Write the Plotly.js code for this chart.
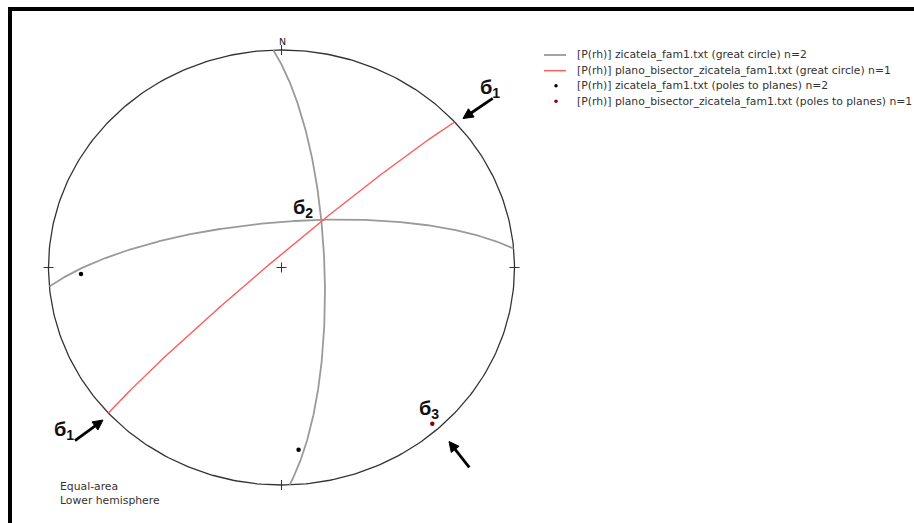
<!DOCTYPE html>
<html><head><meta charset="utf-8">
<script src="https://cdn.plot.ly/plotly-3.0.1.min.js"></script>
<style>html,body{margin:0;padding:0;background:#fff}#chart{width:914px;height:523px}</style>
</head><body><div id="chart"></div>
<script>
// Planes (right-hand-rule strike / dip, degrees) read from the stereonet
const famStrikes = [358, 265];
const famDips = [75, 73];
const bisStrikes = [228];
const bisDips = [86.3];
const legendLabels = [
  "[P(rh)] zicatela_fam1.txt (great circle) n=2",
  "[P(rh)] plano_bisector_zicatela_fam1.txt (great circle) n=1",
  "[P(rh)] zicatela_fam1.txt (poles to planes) n=2",
  "[P(rh)] plano_bisector_zicatela_fam1.txt (poles to planes) n=1"
];

const W = 914, H = 523, CX = 281.5, CY = 267.5, RX = 233, RY = 217.5;
const px = x => (x - CX) / RX;
const py = y => (CY - y) / RY;
const d2r = Math.PI / 180;

function projLine(trend, plunge) {
  const r = Math.SQRT2 * Math.sin((90 - plunge) * d2r / 2);
  return [r * Math.sin(trend * d2r), r * Math.cos(trend * d2r)];
}
function greatCircle(strike, dip) {
  const xs = [], ys = [];
  const s = strike * d2r, dd = (strike + 90) * d2r, d = dip * d2r;
  const sv = [Math.cos(s), Math.sin(s), 0];
  const dv = [Math.cos(d) * Math.cos(dd), Math.cos(d) * Math.sin(dd), Math.sin(d)];
  for (let i = 0; i <= 360; i++) {
    const t = i * 0.5 * d2r;
    const v = [0, 1, 2].map(k => Math.cos(t) * sv[k] + Math.sin(t) * dv[k]);
    const plunge = Math.asin(Math.max(-1, Math.min(1, v[2]))) / d2r;
    const trend = Math.atan2(v[1], v[0]) / d2r;
    const p = projLine(trend, plunge);
    xs.push(p[0]); ys.push(p[1]);
  }
  return {x: xs, y: ys};
}
function poles(strikes, dips) {
  const xs = [], ys = [];
  strikes.forEach((s, i) => {
    const p = projLine(s - 90, 90 - dips[i]);
    xs.push(p[0]); ys.push(p[1]);
  });
  return {x: xs, y: ys};
}

const traces = [];
// primitive circle
const cxs = [], cys = [];
for (let i = 0; i <= 360; i++) { cxs.push(Math.sin(i * d2r)); cys.push(Math.cos(i * d2r)); }
traces.push({x: cxs, y: cys, mode: 'lines', line: {color: '#333', width: 1.3}, hoverinfo: 'skip', showlegend: false});
// cardinal ticks and centre cross
const tx = 5 / RX, ty = 5 / RY;
traces.push({
  x: [0, 0, null, 0, 0, null, -1 - tx, -1 + tx, null, 1 - tx, 1 + tx, null, -tx, tx, null, 0, 0],
  y: [1 - ty, 1 + ty, null, -1 - ty, -1 + ty, null, 0, 0, null, 0, 0, null, 0, 0, null, -ty, ty],
  mode: 'lines', line: {color: '#333', width: 1}, hoverinfo: 'skip', showlegend: false
});
famStrikes.forEach((s, i) => {
  const g = greatCircle(s, famDips[i]);
  traces.push({x: g.x, y: g.y, mode: 'lines', name: legendLabels[0], line: {color: '#9a9a9a', width: 1.8}, showlegend: false});
});
bisStrikes.forEach((s, i) => {
  const g = greatCircle(s, bisDips[i]);
  traces.push({x: g.x, y: g.y, mode: 'lines', name: legendLabels[1], line: {color: '#ff5a5a', width: 1.4}, showlegend: false});
});
const fp = poles(famStrikes, famDips);
traces.push({x: fp.x, y: fp.y, mode: 'markers', name: legendLabels[2], marker: {color: '#000', size: 4.5}, showlegend: false});
const bp = poles(bisStrikes, bisDips);
traces.push({x: bp.x, y: bp.y, mode: 'markers', name: legendLabels[3], marker: {color: '#8b0000', size: 4.5}, showlegend: false});

const annotations = [];
const shapes = [];
const sigFont = {family: 'Liberation Sans, Arial, sans-serif', size: 20, color: '#111'};
[["<b>б<sub>1</sub></b>", 490, 88], ["<b>б<sub>1</sub></b>", 64, 430],
 ["<b>б<sub>2</sub></b>", 303, 208], ["<b>б<sub>3</sub></b>", 429, 409]].forEach(a => {
  annotations.push({x: px(a[1]), y: py(a[2]), xref: 'x', yref: 'y', text: a[0], showarrow: false, font: sigFont});
});
// stress arrows (tail -> head, pixels) drawn as shapes
const X = v => v / W, Y = v => 1 - v / H;
[[492.7, 98.3, 463, 118.5], [75, 440.7, 103, 420], [469.3, 467.3, 449, 441.5]].forEach(a => {
  const dx = a[2] - a[0], dy = a[3] - a[1], L = Math.hypot(dx, dy);
  const ux = dx / L, uy = dy / L, hl = 10, hw = 5;
  const bx = a[2] - ux * hl, by = a[3] - uy * hl;
  shapes.push({type: 'line', xref: 'paper', yref: 'paper', x0: X(a[0]), y0: Y(a[1]), x1: X(bx + ux * 2), y1: Y(by + uy * 2),
    line: {color: '#000', width: 2.8}});
  const p1 = [a[2], a[3]], p2 = [bx - uy * hw, by + ux * hw], p3 = [bx + uy * hw, by - ux * hw];
  shapes.push({type: 'path', xref: 'paper', yref: 'paper',
    path: `M ${X(p1[0])} ${Y(p1[1])} L ${X(p2[0])} ${Y(p2[1])} L ${X(p3[0])} ${Y(p3[1])} Z`,
    fillcolor: '#000', line: {color: '#000', width: 1}});
});
annotations.push({x: px(282), y: py(41), xref: 'x', yref: 'y', text: 'N', showarrow: false,
  font: {family: 'DejaVu Sans, sans-serif', size: 9.5, color: '#222'}});
annotations.push({x: px(58), y: py(493.5), xref: 'x', yref: 'y', xanchor: 'left', align: 'left',
  text: 'Equal-area<br>Lower hemisphere', showarrow: false,
  font: {family: 'DejaVu Sans, sans-serif', size: 10.8, color: '#333'}});

// legend (drawn manually)
const legY = [55, 70.7, 85.8, 101.3];
const legFont = {family: 'DejaVu Sans, sans-serif', size: 10.8, color: '#333'};
legendLabels.forEach((lab, i) => {
  annotations.push({x: 575 / W, y: 1 - legY[i] / H, xref: 'paper', yref: 'paper', xanchor: 'left', yanchor: 'middle',
    text: lab, showarrow: false, font: legFont});
});
shapes.push({type: 'line', xref: 'paper', yref: 'paper', x0: 544 / W, x1: 566 / W, y0: 1 - legY[0] / H, y1: 1 - legY[0] / H, line: {color: '#9a9a9a', width: 1.8}});
shapes.push({type: 'line', xref: 'paper', yref: 'paper', x0: 544 / W, x1: 566 / W, y0: 1 - legY[1] / H, y1: 1 - legY[1] / H, line: {color: '#ff5a5a', width: 1.4}});
[[legY[2], '#000'], [legY[3], '#8b0000']].forEach(d => {
  shapes.push({type: 'circle', xref: 'paper', yref: 'paper', x0: 554.3 / W, x1: 557.7 / W,
    y0: 1 - (d[0] + 1.7) / H, y1: 1 - (d[0] - 1.7) / H, fillcolor: d[1], line: {width: 0}});
});
// frame bars (top and left)
shapes.push({type: 'rect', xref: 'paper', yref: 'paper', x0: 8 / W, x1: 1, y0: 1 - 11 / H, y1: 1 - 7 / H, fillcolor: '#000', line: {width: 0}});
shapes.push({type: 'rect', xref: 'paper', yref: 'paper', x0: 8 / W, x1: 12 / W, y0: 0, y1: 1 - 7 / H, fillcolor: '#000', line: {width: 0}});

const layout = {
  width: W, height: H, margin: {l: 0, r: 0, t: 0, b: 0},
  paper_bgcolor: '#fff', plot_bgcolor: '#fff', showlegend: false,
  xaxis: {range: [-CX / RX, (W - CX) / RX], visible: false, fixedrange: true},
  yaxis: {range: [(CY - H) / RY, CY / RY], visible: false, fixedrange: true},
  annotations: annotations, shapes: shapes
};
Plotly.newPlot('chart', traces, layout, {displayModeBar: false, staticPlot: true});
</script></body></html>
